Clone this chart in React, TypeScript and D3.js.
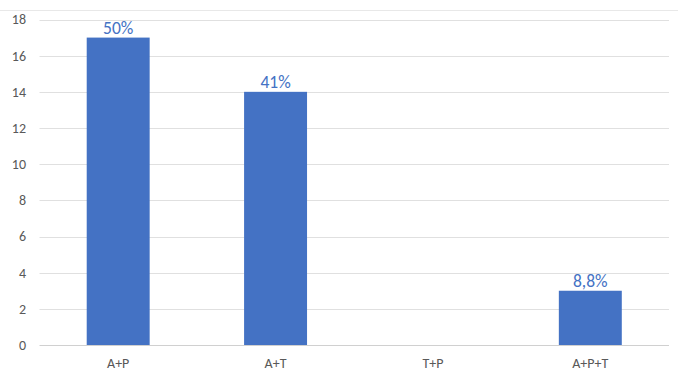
import React from "react";
import * as d3 from "d3";

const categories = ["A+P", "A+T", "T+P", "A+P+T"];
const values = [17, 14, 0, 3];
const dataLabels = ["50%", "41%", "", "8,8%"];
const yTicks = [0, 2, 4, 6, 8, 10, 12, 14, 16, 18];

export default function App() {
  const W = 678, H = 385;
  const left = 39.5, right = 669, top = 19.5, bottom = 345;
  const x = d3.scaleBand<string>().domain(categories).range([left, right]).paddingInner(0.6).paddingOuter(0.3);
  const y = d3.scaleLinear().domain([0, 18]).range([bottom, top]);
  const font = "Carlito, Calibri, 'Open Sans', 'Liberation Sans', sans-serif";
  return (
    <svg width={W} height={H} style={{ position: "absolute", left: 0, top: 0, background: "#fff" }} fontFamily={font}>
      <line x1={0} x2={W} y1={10.5} y2={10.5} stroke="#e8e8e8" />
      {yTicks.map((t) => (
        <g key={t}>
          <line x1={left} x2={right} y1={Math.round(y(t)) + 0.5} y2={Math.round(y(t)) + 0.5} stroke={t === 0 ? "#d0d0d0" : "#e0e0e0"} />
          <text x={26} y={y(t)} dy="0.35em" textAnchor="end" fontSize={14} fill="#595959">{t}</text>
        </g>
      ))}
      {categories.map((c, i) => (
        <g key={c}>
          {values[i] > 0 && (
            <rect x={x(c)} y={y(values[i])} width={x.bandwidth()} height={y(0) - y(values[i])} fill="#4472C4" />
          )}
          {dataLabels[i] && (
            <text x={(x(c) as number) + x.bandwidth() / 2} y={y(values[i]) - 4} textAnchor="middle" fontSize={17.5} fill="#4472C4">{dataLabels[i]}</text>
          )}
          <text x={(x(c) as number) + x.bandwidth() / 2} y={363} dy="0.35em" textAnchor="middle" fontSize={14} fill="#595959">{c}</text>
        </g>
      ))}
    </svg>
  );
}
